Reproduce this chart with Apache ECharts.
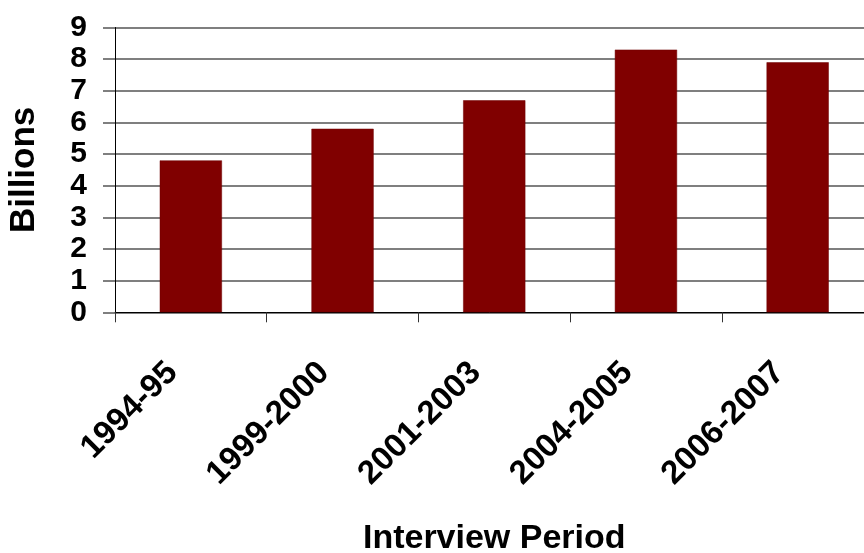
<!DOCTYPE html>
<html>
<head>
<meta charset="utf-8">
<script src="https://cdn.jsdelivr.net/npm/echarts@6/dist/echarts.min.js"></script>
<style>
  html, body { margin: 0; padding: 0; background: #ffffff; }
  #chart { width: 864px; height: 553px; }
</style>
</head>
<body>
<div id="chart"></div>
<script>
const categories = ['1994-95', '1999-2000', '2001-2003', '2004-2005', '2006-2007'];
const values = [4.8, 5.8, 6.7, 8.3, 7.9];
const yTickValues = [0, 1, 2, 3, 4, 5, 6, 7, 8, 9];
const xAxisTitle = 'Interview Period';
const yAxisTitle = 'Billions';

const FONT = '"Liberation Sans", Arial, sans-serif';
const GRID_COLOR = '#555555';

const chart = echarts.init(document.getElementById('chart'), null, { renderer: 'canvas' });
chart.setOption({
  animation: false,
  backgroundColor: '#ffffff',
  grid: { left: 115, right: -9.5, top: 27.5, bottom: 240.7, containLabel: false, outerBoundsMode: 'none' },
  xAxis: {
    type: 'category',
    data: categories,
    boundaryGap: true,
    name: xAxisTitle,
    nameLocation: 'middle',
    nameGap: 209,
    nameTextStyle: { fontFamily: FONT, fontSize: 34, fontWeight: 'bold', color: '#000' },
    axisLine: { show: true, lineStyle: { color: '#000', width: 1 } },
    axisTick: { show: true, length: 10, inside: false, lineStyle: { color: '#333', width: 1 } },
    axisLabel: {
      interval: 0,
      rotate: 45,
      margin: 37,
      padding: [0, 26, 0, 0],
      fontFamily: FONT,
      fontSize: 33,
      fontWeight: 'bold',
      color: '#000'
    },
    splitLine: { show: false }
  },
  yAxis: {
    type: 'value',
    min: yTickValues[0],
    max: yTickValues[yTickValues.length - 1],
    interval: 1,
    name: yAxisTitle,
    nameLocation: 'middle',
    nameGap: 73,
    nameRotate: 90,
    nameTextStyle: { fontFamily: FONT, fontSize: 35, fontWeight: 'bold', color: '#000' },
    axisLine: { show: true, lineStyle: { color: '#000', width: 1 } },
    axisTick: { show: true, length: 12, inside: false, lineStyle: { color: GRID_COLOR, width: 1.5 } },
    axisLabel: {
      margin: 28,
      fontFamily: FONT,
      fontSize: 30,
      fontWeight: 'bold',
      color: '#000',
      formatter: function (v) { return String(v); }
    },
    splitLine: { show: true, lineStyle: { color: GRID_COLOR, width: 1.5 } }
  },
  series: [{
    type: 'bar',
    data: values,
    barWidth: '41%',
    itemStyle: { color: '#800000', borderColor: '#6e0000', borderWidth: 0.5 },
    z: 3
  }]
});
</script>
</body>
</html>
